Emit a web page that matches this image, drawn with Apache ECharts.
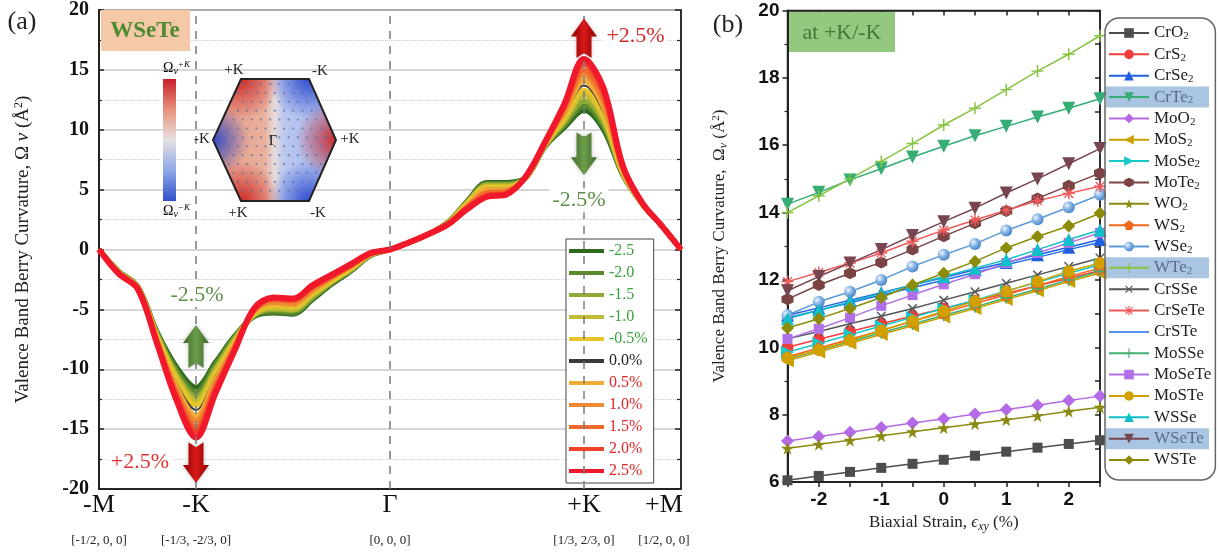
<!DOCTYPE html>
<html><head><meta charset="utf-8">
<script src="https://cdn.jsdelivr.net/npm/echarts@6/dist/echarts.min.js"></script>
<style>html,body{margin:0;padding:0;background:#fff}#c{width:1219px;height:558px}</style>
</head><body><div id="c"></div>
<script>
// ---------------- DATA: panel (a) ----------------
const kPath = [0,0.1,0.2,0.3,0.4,0.5,0.6,0.7,0.8,0.9,1.0,1.1,1.2,1.3,1.4,1.5,1.6,1.7,1.8,1.9,2.0,2.1,2.2,2.3,2.4,2.5,2.6,2.7,2.8,2.9,3.0];
const kPointPos = [0,0.5,1.5,2.5,3];
const kPointNames = ['-M','-K','Γ','+K','+M'];
const kPointCoords = ['[-1/2, 0, 0]','[-1/3, -2/3, 0]','[0, 0, 0]','[1/3, 2/3, 0]','[1/2, 0, 0]'];
const strainLabels = ['-2.5','-2.0','-1.5','-1.0','-0.5%','0.0%','0.5%','1.0%','1.5%','2.0%','2.5%'];
const curveM25 = [0,-1.8,-3.1,-6.9,-9.8,-11.5,-9.4,-7.2,-5.6,-5.3,-5.4,-4.2,-2.9,-1.8,-0.5,0,0.6,1.3,2.3,4.1,5.6,5.6,6.0,8.6,10.2,11.6,10.0,6.2,3.8,2.0,0];
const curveM20 = [0,-1.8,-3.1,-7.0,-10.1,-11.9,-9.6,-7.3,-5.5,-5.2,-5.3,-4.1,-2.8,-1.7,-0.5,0,0.6,1.3,2.3,4.0,5.5,5.5,6.0,8.6,10.4,12.0,10.3,6.3,3.8,2.0,0];
const curveM15 = [0,-1.8,-3.1,-7.1,-10.4,-12.3,-9.9,-7.4,-5.5,-5.0,-5.1,-4.0,-2.7,-1.7,-0.5,0,0.6,1.3,2.3,4.0,5.4,5.4,6.0,8.7,10.6,12.4,10.6,6.3,3.8,2.0,0];
const curveM10 = [0,-1.9,-3.2,-7.2,-10.6,-12.6,-10.1,-7.6,-5.4,-4.9,-5.0,-3.8,-2.7,-1.6,-0.4,0,0.6,1.3,2.2,3.9,5.3,5.3,6.0,8.7,10.8,12.9,10.9,6.4,3.8,2.0,0];
const curveM05 = [0,-1.9,-3.2,-7.3,-10.9,-13.0,-10.4,-7.7,-5.4,-4.7,-4.8,-3.7,-2.6,-1.6,-0.4,0,0.6,1.3,2.2,3.9,5.2,5.2,6.0,8.8,11.0,13.3,11.2,6.4,3.8,2.0,0];
const curveP00 = [0,-1.9,-3.2,-7.4,-11.2,-13.4,-10.6,-7.8,-5.3,-4.6,-4.7,-3.6,-2.5,-1.5,-0.4,0,0.6,1.3,2.2,3.8,5.1,5.1,6.0,8.8,11.2,13.7,11.5,6.5,3.8,2.0,0];
const curveP05 = [0,-1.9,-3.2,-7.5,-11.5,-13.9,-10.9,-7.9,-5.2,-4.5,-4.6,-3.5,-2.4,-1.4,-0.4,0,0.6,1.3,2.2,3.7,5.0,5.0,6.0,8.8,11.4,14.1,11.9,6.6,3.8,2.0,0];
const curveP10 = [0,-1.9,-3.2,-7.6,-11.8,-14.3,-11.2,-8.0,-5.1,-4.4,-4.5,-3.4,-2.3,-1.4,-0.4,0,0.6,1.3,2.2,3.6,4.8,4.9,6.0,8.9,11.6,14.6,12.3,6.7,3.8,2.0,0];
const curveP15 = [0,-2.0,-3.3,-7.7,-12.0,-14.8,-11.4,-8.2,-5.1,-4.2,-4.3,-3.2,-2.3,-1.3,-0.3,0,0.6,1.3,2.1,3.6,4.7,4.8,6.1,8.9,11.8,15.0,12.7,6.8,3.9,2.0,0];
const curveP20 = [0,-2.0,-3.3,-7.8,-12.3,-15.2,-11.7,-8.3,-5.0,-4.1,-4.2,-3.1,-2.2,-1.3,-0.3,0,0.6,1.3,2.1,3.5,4.5,4.7,6.1,9.0,12.0,15.5,13.1,6.9,3.9,2.0,0];
const curveP25 = [0,-2.0,-3.3,-7.9,-12.6,-15.7,-12.0,-8.4,-4.9,-4.0,-4.1,-3.0,-2.1,-1.2,-0.3,0,0.6,1.3,2.1,3.4,4.4,4.6,6.1,9.0,12.2,15.9,13.5,7.0,3.9,2.0,0];
const curves = [curveM25,curveM20,curveM15,curveM10,curveM05,curveP00,curveP05,curveP10,curveP15,curveP20,curveP25];

// ---------------- DATA: panel (b) ----------------
const strainAxis = [-2.5,-2,-1.5,-1,-0.5,0,0.5,1,1.5,2,2.5];
const matNames = ['CrO2','CrS2','CrSe2','CrTe2','MoO2','MoS2','MoSe2','MoTe2','WO2','WS2','WSe2','WTe2','CrSSe','CrSeTe','CrSTe','MoSSe','MoSeTe','MoSTe','WSSe','WSeTe','WSTe'];
const valCrO2   = [6.05,6.18,6.3,6.42,6.54,6.66,6.78,6.9,7.02,7.13,7.24];
const valCrS2   = [10.0,10.24,10.47,10.7,10.93,11.15,11.38,11.6,11.83,12.05,12.28];
const valCrSe2  = [10.95,11.17,11.4,11.62,11.85,12.07,12.3,12.52,12.75,12.97,13.2];
const valCrTe2  = [14.25,14.6,14.97,15.3,15.65,15.97,16.28,16.56,16.84,17.1,17.38];
const valMoO2   = [7.22,7.35,7.48,7.62,7.75,7.88,8.02,8.15,8.28,8.42,8.55];
const valMoS2   = [9.6,9.86,10.12,10.38,10.64,10.9,11.15,11.42,11.68,11.95,12.2];
const valMoSe2  = [9.85,10.11,10.37,10.63,10.89,11.15,11.4,11.67,11.93,12.2,12.45];
const valMoTe2  = [11.43,11.85,12.2,12.52,12.9,13.3,13.68,14.05,14.42,14.8,15.17];
const valWO2    = [7.0,7.12,7.24,7.37,7.49,7.61,7.73,7.85,7.97,8.1,8.22];
const valWS2    = [9.72,9.98,10.24,10.5,10.77,11.03,11.3,11.56,11.83,12.1,12.35];
const valWSe2   = [10.95,11.35,11.65,12.0,12.4,12.75,13.07,13.47,13.8,14.16,14.53];
const valWTe2   = [14.0,14.5,15.0,15.52,16.05,16.6,17.1,17.65,18.2,18.7,19.25];
const valCrSSe  = [10.25,10.47,10.7,10.92,11.15,11.4,11.65,11.9,12.15,12.4,12.65];
const valCrSeTe = [11.95,12.22,12.5,12.8,13.15,13.48,13.78,14.07,14.35,14.57,14.78];
const valCrSTe  = [10.88,11.1,11.32,11.55,11.77,12.0,12.22,12.45,12.67,12.9,13.12];
const valMoSSe  = [9.65,9.91,10.17,10.43,10.69,10.95,11.2,11.47,11.73,12.0,12.25];
const valMoSeTe = [10.25,10.55,10.88,11.23,11.55,11.87,12.17,12.5,12.8,13.1,13.4];
const valMoSTe  = [9.68,9.92,10.2,10.5,10.78,11.07,11.37,11.66,11.95,12.26,12.5];
const valWSSe   = [10.85,11.1,11.35,11.6,11.85,12.1,12.35,12.6,12.9,13.2,13.48];
const valWSeTe  = [11.68,12.1,12.5,12.9,13.32,13.73,14.13,14.58,15.0,15.45,15.9];
const valWSTe   = [10.57,10.85,11.15,11.48,11.85,12.2,12.55,12.95,13.29,13.6,13.98];
const matValues = [valCrO2,valCrS2,valCrSe2,valCrTe2,valMoO2,valMoS2,valMoSe2,valMoTe2,valWO2,valWS2,valWSe2,valWTe2,valCrSSe,valCrSeTe,valCrSTe,valMoSSe,valMoSeTe,valMoSTe,valWSSe,valWSeTe,valWSTe];
const highlighted = ['CrTe2','WTe2','WSeTe'];

// ---------------- STYLES ----------------
const SERIF = '"Liberation Serif","Times New Roman","DejaVu Serif",serif';
const SANS = '"Liberation Sans",Arial,sans-serif';
const strainColors = ['#2f6b1f','#5b8a2b','#8ea935','#c2bb33','#e6c52a','#3a3a3a','#f0ac34','#ef8a32','#f06a2e','#f0402a','#f0182a'];
const HEX = 'path://M0,-10L8.66,-5L8.66,5L0,10L-8.66,5L-8.66,-5Z';
const STAR = 'path://M50,0L61,35L98,35L68,57L79,91L50,70L21,91L32,57L2,35L39,35Z';
const PENT = 'path://M50,0L98,35L79,91L21,91L2,35Z';
const PLUS = 'path://M4.4,0H5.6V4.4H10V5.6H5.6V10H4.4V5.6H0V4.4H4.4Z';
const ASTER = 'path://M4.4,0H5.6V10H4.4Z M0,4.4H10V5.6H0Z M1,1.8L1.8,1L9,8.2L8.2,9Z M8.2,1L9,1.8L1.8,9L1,8.2Z';
const LINEICON = 'path://M0,0H40V1.5H0Z';
const ballFill = {type:'radial',x:0.35,y:0.35,r:0.75,colorStops:[{offset:0,color:'#eef5ff'},{offset:0.45,color:'#86b4e4'},{offset:1,color:'#3c7cc2'}]};
const matStyle = [
  {c:'#4d4d4d', s:'rect', z:9},
  {c:'#f03c3c', s:'circle', z:10},
  {c:'#2060e0', s:'triangle', z:10},
  {c:'#35ad74', s:'triangle', r:180, z:11},
  {c:'#b469e6', s:'diamond', z:11},
  {c:'#c9a000', s:'triangle', r:90, z:11},
  {c:'#17c8c8', s:'triangle', r:-90, z:11},
  {c:'#7b4343', s:HEX, z:10},
  {c:'#8a8a12', s:STAR, z:12},
  {c:'#f0661a', s:PENT, z:10},
  {c:'#5a9ad8', s:'circle', fill:ballFill, z:11},
  {c:'#86c440', s:PLUS, z:12},
  {c:'#555555', s:PLUS, r:45, z:11},
  {c:'#f05a5a', s:ASTER, z:11},
  {c:'#2070e8', s:'none'},
  {c:'#40b070', s:PLUS, z:9},
  {c:'#b070e8', s:'rect', z:9},
  {c:'#d4a000', s:'circle', z:9},
  {c:'#10c0c8', s:'triangle', z:9},
  {c:'#764550', s:'triangle', r:180, z:12},
  {c:'#8c8c0a', s:'diamond', z:10}
];
function symSize(s){
  if (s==='rect') return 10;
  if (s===PLUS || s===ASTER) return 12;
  if (s===STAR) return 13;
  if (s==='triangle' || s==='diamond') return 13;
  return 12;
}

const chart = echarts.init(document.getElementById('c'));

const leftSeries = strainLabels.map((name,i)=>({
  type:'line', name, xAxisIndex:0, yAxisIndex:0, silent:true,
  data: kPath.map((x,j)=>[x, curves[i][j]]),
  smooth:0.35, symbol:'none',
  lineStyle:{color:strainColors[i], width: i===5 ? 2 : (i===10 ? 6 : 5)},
  itemStyle:{color:strainColors[i]},
  markLine: i===0 ? {silent:true, symbol:'none', label:{show:false},
    lineStyle:{type:[8,7], color:'#7a7a7a', width:1.5},
    data: kPointPos.slice(1,4).map(x=>({xAxis:x}))} : undefined
}));

const rightSeries = matNames.map((name,i)=>{
  const st = matStyle[i];
  return {
    type:'line', name, xAxisIndex:1, yAxisIndex:2, silent:true,
    data: strainAxis.map((x,j)=>[x, matValues[i][j]]),
    symbol: st.s, symbolSize: symSize(st.s), symbolRotate: st.r||0,
    showSymbol: st.s!=='none',
    lineStyle:{color:st.c, width:1.5},
    itemStyle:{color: st.fill || st.c},
    z: 2
  };
});

function kLabel(v){
  const idx = kPointPos.findIndex(p=>Math.abs(p-v)<1e-6);
  if (idx<0) return '';
  if (idx===4) return '{ar|'+kPointNames[idx]+'}\n{br|'+kPointCoords[idx]+'}';
  return '{a|'+kPointNames[idx]+'}\n{b|'+kPointCoords[idx]+'}';
}

const option = {
  animation:false,
  backgroundColor:'#fff',
  grid:[
    {left:99, top:9, width:582, height:480, show:true, borderColor:'#222', borderWidth:1.5},
    {left:787.5, top:10.5, width:312.5, height:471.5, show:true, borderColor:'#222', borderWidth:1.5}
  ],
  legend:[
    {
      orient:'vertical', left:566, top:239, selectedMode:false,
      icon:'rect', itemWidth:35, itemHeight:4, itemGap:6,
      backgroundColor:'#fff', borderColor:'#444', borderWidth:1, padding:[4,6,4,3],
      textStyle:{fontFamily:SERIF, fontSize:16, lineHeight:16},
      data: strainLabels.map((n,i)=>({name:n, textStyle:{color: i<5 ? '#3aa33a' : (i===5 ? '#222' : '#e42424')}}))
    },
    {
      orient:'vertical', left:1105, top:18, selectedMode:false,
      itemWidth:40, itemHeight:12, itemGap:3.35,
      backgroundColor:'transparent', borderColor:'#666', borderWidth:1.5, borderRadius:14, padding:[6,4,11,3],
      textStyle:{fontFamily:SERIF, fontSize:17, lineHeight:18, color:'#222',
        rich:{s:{fontFamily:SERIF, fontSize:11, lineHeight:18, verticalAlign:'bottom', padding:[7,0,0,0]}}},
      formatter: n => n.replace(/2$/, '{s|2}'),
      data: matNames.map(n=>{
        const o = {name:n};
        if (highlighted.includes(n)) o.textStyle = {color:'#5b6b8c'};
        if (n==='CrSTe') o.icon = LINEICON;
        return o;
      })
    }
  ],
  xAxis:[
    {gridIndex:0, type:'value', min:0, max:3, interval:0.5,
      axisLine:{onZero:false, lineStyle:{color:'#222', width:2}}, axisTick:{show:false}, splitLine:{show:false},
      axisLabel:{margin:3, formatter:kLabel, color:'#111',
        rich:{a:{fontFamily:SERIF, fontSize:26, lineHeight:26, color:'#111'},
              b:{fontFamily:SERIF, fontSize:13, lineHeight:45, color:'#222'},
              ar:{fontFamily:SERIF, fontSize:26, lineHeight:26, color:'#111', padding:[0,34,0,0]},
              br:{fontFamily:SERIF, fontSize:13, lineHeight:45, color:'#222', padding:[0,34,0,0]}}}},
    {gridIndex:1, type:'value', min:-2.5, max:2.5, interval:0.5,
      axisLine:{onZero:false, lineStyle:{color:'#222', width:2}},
      axisTick:{show:true, length:5, lineStyle:{color:'#222', width:1.5}}, splitLine:{show:false},
      axisLabel:{margin:8, fontFamily:SANS, fontWeight:'bold', fontSize:19, color:'#111',
        formatter: v => Number.isInteger(v) ? String(v) : ''},
      name:'Biaxial Strain, {e|ϵ}{s|xy} (%)', nameLocation:'middle', nameGap:31,
      nameTextStyle:{fontFamily:SERIF, fontSize:17, color:'#222',
        rich:{e:{fontFamily:SERIF, fontSize:17, fontStyle:'italic', color:'#222'},
              s:{fontFamily:SERIF, fontSize:12, fontStyle:'italic', color:'#222', verticalAlign:'bottom', padding:[8,0,0,0]}}}},
    {gridIndex:1, type:'value', min:-2.5, max:2.5, interval:0.5, position:'top',
      axisLine:{onZero:false, lineStyle:{color:'#222', width:1.5}},
      axisTick:{show:true, inside:true, length:5, lineStyle:{color:'#222', width:1.5}},
      axisLabel:{show:false}, splitLine:{show:false}}
  ],
  yAxis:[
    {gridIndex:0, type:'value', min:-20, max:20, interval:5,
      axisLine:{show:true, onZero:false, lineStyle:{color:'#222', width:2}},
      axisTick:{show:true, inside:true, length:5, lineStyle:{color:'#222', width:1.5}},
      minorTick:{show:true, splitNumber:2, length:3, lineStyle:{color:'#222', width:1.2}},
      splitLine:{show:true, lineStyle:{color:'#c9c9c9', width:1.5}},
      minorSplitLine:{show:true, lineStyle:{color:'#d0d0d0', type:'dotted', width:1}},
      axisLabel:{fontFamily:SERIF, fontWeight:'bold', fontSize:20, color:'#111', margin:10},
      name:'Valence Band Berry Curvature, Ω {i|v} (Å{p|2})', nameLocation:'middle', nameGap:66,
      nameTextStyle:{fontFamily:SERIF, fontSize:19, color:'#222',
        rich:{i:{fontFamily:SERIF, fontSize:19, fontStyle:'italic', color:'#222'},
              p:{fontFamily:SERIF, fontSize:12, color:'#222', verticalAlign:'top', padding:[0,0,8,0]}}}},
    {gridIndex:0, type:'value', min:-20, max:20, interval:5, position:'right',
      axisLine:{show:true, onZero:false, lineStyle:{color:'#222', width:1.5}},
      axisTick:{show:true, inside:true, length:6, lineStyle:{color:'#222', width:1.5}},
      minorTick:{show:true, splitNumber:2, length:4, lineStyle:{color:'#222', width:1.2}},
      axisLabel:{show:false}, splitLine:{show:false}},
    {gridIndex:1, type:'value', min:6, max:20, interval:2,
      axisLine:{show:true, onZero:false, lineStyle:{color:'#222', width:2}},
      axisTick:{show:true, length:5, lineStyle:{color:'#222', width:1.5}},
      minorTick:{show:true, splitNumber:2, length:3, lineStyle:{color:'#222', width:1.2}},
      splitLine:{show:false},
      axisLabel:{fontFamily:SANS, fontWeight:'bold', fontSize:19, color:'#111', margin:8},
      name:'Valence Band Berry Curvature,  Ω{s|v} (Å{p|2})', nameLocation:'middle', nameGap:58,
      nameTextStyle:{fontFamily:SERIF, fontSize:17, color:'#222',
        rich:{s:{fontFamily:SERIF, fontSize:12, fontStyle:'italic', color:'#222', verticalAlign:'bottom', padding:[7,0,0,0]},
              p:{fontFamily:SERIF, fontSize:11, color:'#222', verticalAlign:'top', padding:[0,0,8,0]}}}},
    {gridIndex:1, type:'value', min:6, max:20, interval:1, position:'right',
      axisLine:{show:true, onZero:false, lineStyle:{color:'#222', width:1.5}},
      axisTick:{show:true, inside:true, length:5, lineStyle:{color:'#222', width:1.5}},
      axisLabel:{show:false}, splitLine:{show:false}}
  ],
  series: leftSeries.concat(rightSeries)
};
chart.setOption(option);

// ---------------- ANNOTATIONS ----------------
const P = (x,y)=>chart.convertToPixel({gridIndex:0},[x,y]);
const G = [];
function arrow(u, vTail, vTip, stops){
  const pT = P(u, vTail), pH = P(u, vTip);
  const cx = pT[0], yTail = pT[1], yTip = pH[1];
  const dir = yTip < yTail ? -1 : 1, hl = 18, hw = 13, sw = 7.5, notch = 5;
  const yb = yTip - dir*hl;
  G.push({type:'polygon', z:20, shape:{points:[[cx-sw,yTail],[cx-sw,yb],[cx-hw,yb],[cx,yTip],[cx+hw,yb],[cx+sw,yb],[cx+sw,yTail],[cx,yTail+dir*notch]]},
    style:{fill:{type:'linear',x:0,y:0,x2:1,y2:0,colorStops:stops}, shadowBlur:4, shadowColor:'rgba(0,0,0,0.25)'}});
}
function label(u, v, text, color, align){
  const p = P(u, v);
  G.push({type:'text', z:19, x:p[0], y:p[1], style:{text, fill:color, fontFamily:SERIF, fontSize:22,
    align: align||'center', verticalAlign:'middle', backgroundColor:'#fff', padding:[1,3]}});
}
const redStops = [{offset:0,color:'#8e0000'},{offset:0.5,color:'#d81818'},{offset:1,color:'#8e0000'}];
const grnStops = [{offset:0,color:'#3d6b28'},{offset:0.5,color:'#6c9c4c'},{offset:1,color:'#3d6b28'}];
label(2.474, 4.1, '-2.5%', '#5e9048');
label(0.505, -3.8, '-2.5%', '#5e9048');
label(2.60, 17.8, '+2.5%', '#d42a2a', 'left');
label(0.211, -17.75, '+2.5%', '#e03030');
arrow(2.5, 16.0, 19.3, redStops);
arrow(2.5, 9.8, 6.2, grnStops);
arrow(0.5, -9.9, -6.3, grnStops);
arrow(0.5, -16.1, -19.5, redStops);

// panel titles and tags
G.push({type:'text', z:20, x:22, y:22, style:{text:'(a)', fill:'#222', fontFamily:SERIF, fontSize:26, align:'center', verticalAlign:'middle'}});
G.push({type:'text', z:20, x:728, y:25, style:{text:'(b)', fill:'#222', fontFamily:SERIF, fontSize:26, align:'center', verticalAlign:'middle'}});
G.push({type:'rect', z:20, shape:{x:101, y:10, width:89, height:41}, style:{fill:'#f5c8a8'}});
G.push({type:'text', z:21, x:145, y:31, style:{text:'WSeTe', fill:'#4e8a30', fontFamily:SERIF, fontSize:23, fontWeight:'bold', align:'center', verticalAlign:'middle'}});
G.push({type:'rect', z:20, shape:{x:789, y:12, width:106, height:40}, style:{fill:'#92c97e'}});
G.push({type:'text', z:21, x:842, y:33, style:{text:'at +K/-K', fill:'#3f7a36', fontFamily:SERIF, fontSize:22, align:'center', verticalAlign:'middle'}});

// inset: Brillouin zone map
const hexV = [[241,79],[309,79],[336,140],[309,201],[241,201],[213,140]];
const hexSign = [1,-1,1,-1,1,-1];
G.push({type:'polygon', z:10, shape:{points:hexV}, style:{fill:{type:'linear',x:0,y:0,x2:1,y2:0,colorStops:[
  {offset:0,color:'#e59a84'},{offset:0.42,color:'#eab09c'},{offset:0.5,color:'#e6dcdc'},{offset:0.58,color:'#bac7ee'},{offset:1,color:'#a2b5ec'}]}}});
hexV.forEach((V,i)=>{
  const A = hexV[(i+5)%6], B = hexV[(i+1)%6];
  let a1 = Math.atan2(A[1]-V[1], A[0]-V[0]), a2 = Math.atan2(B[1]-V[1], B[0]-V[0]);
  let d = a2 - a1; while (d > Math.PI) d -= 2*Math.PI; while (d < -Math.PI) d += 2*Math.PI;
  if (d < 0) { a1 = a2; d = -d; }
  const rgb = hexSign[i] > 0 ? '205,35,35' : '40,70,205';
  const R = (i===5) ? 36 : 40;
  G.push({type:'sector', z:11, shape:{cx:V[0], cy:V[1], r0:0, r:R, startAngle:a1, endAngle:a1+d, clockwise:true},
    style:{fill:{type:'radial', x:V[0], y:V[1], r:R, global:true, colorStops:[
      {offset:0,color:'rgba('+rgb+',0.95)'},{offset:0.45,color:'rgba('+rgb+',0.5)'},{offset:1,color:'rgba('+rgb+',0)'}]}}});
});
function insideHex(x,y,m){
  for (let i=0;i<6;i++){ const A=hexV[i], B=hexV[(i+1)%6];
    const cr=(B[0]-A[0])*(y-A[1])-(B[1]-A[1])*(x-A[0]); const len=Math.hypot(B[0]-A[0],B[1]-A[1]);
    if (cr/len < m) return false; }
  return true;
}
for (let r=0; r<14; r++){ const y = 84 + r*8.9; const off = (r%2)*4.6;
  for (let x=215+off; x<=336; x+=9.2){ if (insideHex(x,y,3)) G.push({type:'circle', z:12, shape:{cx:x, cy:y, r:1.1}, style:{fill:'rgba(70,115,175,0.75)'}}); } }
G.push({type:'polygon', z:13, shape:{points:hexV}, style:{fill:'none', stroke:'#222', lineWidth:2}});
[['+K',234,70],['-K',320,71],['-K',202,139],['+K',350,139],['+K',238,213],['-K',318,213],['Γ',273,141]].forEach(t=>{
  G.push({type:'text', z:14, x:t[1], y:t[2], style:{text:t[0], fill:'#222', fontFamily:SERIF, fontSize:15, align:'center', verticalAlign:'middle'}});
});
G.push({type:'rect', z:12, shape:{x:163, y:79, width:13, height:122}, style:{fill:{type:'linear',x:0,y:0,x2:0,y2:1,colorStops:[
  {offset:0,color:'#c8202a'},{offset:0.25,color:'#e8907a'},{offset:0.5,color:'#e6e2e2'},{offset:0.75,color:'#8ea8e8'},{offset:1,color:'#3050c8'}]}}});
const omRich = {o:{fontFamily:SERIF,fontSize:14,color:'#222'}, s:{fontFamily:SERIF,fontSize:10,fontStyle:'italic',color:'#222',verticalAlign:'bottom',padding:[6,0,0,0]}, p:{fontFamily:SERIF,fontSize:9,fontStyle:'italic',color:'#222',verticalAlign:'top',padding:[0,0,7,0]}};
G.push({type:'text', z:14, x:163, y:68, style:{text:'{o|Ω}{s|v}{p|+K}', rich:omRich, align:'left', verticalAlign:'middle'}});
G.push({type:'text', z:14, x:163, y:211, style:{text:'{o|Ω}{s|v}{p|−K}', rich:omRich, align:'left', verticalAlign:'middle'}});

// legend highlight bars (panel b)
highlighted.forEach(n=>{
  const i = matNames.indexOf(n);
  const cy = 18 + 6 + 9 + i*21.35;
  G.push({type:'rect', z:0, zlevel:0, shape:{x:1106, y:cy-10.5, width:103, height:21}, style:{fill:'#aac5e2'}});
});

chart.setOption({graphic:G});
</script>
</body></html>
